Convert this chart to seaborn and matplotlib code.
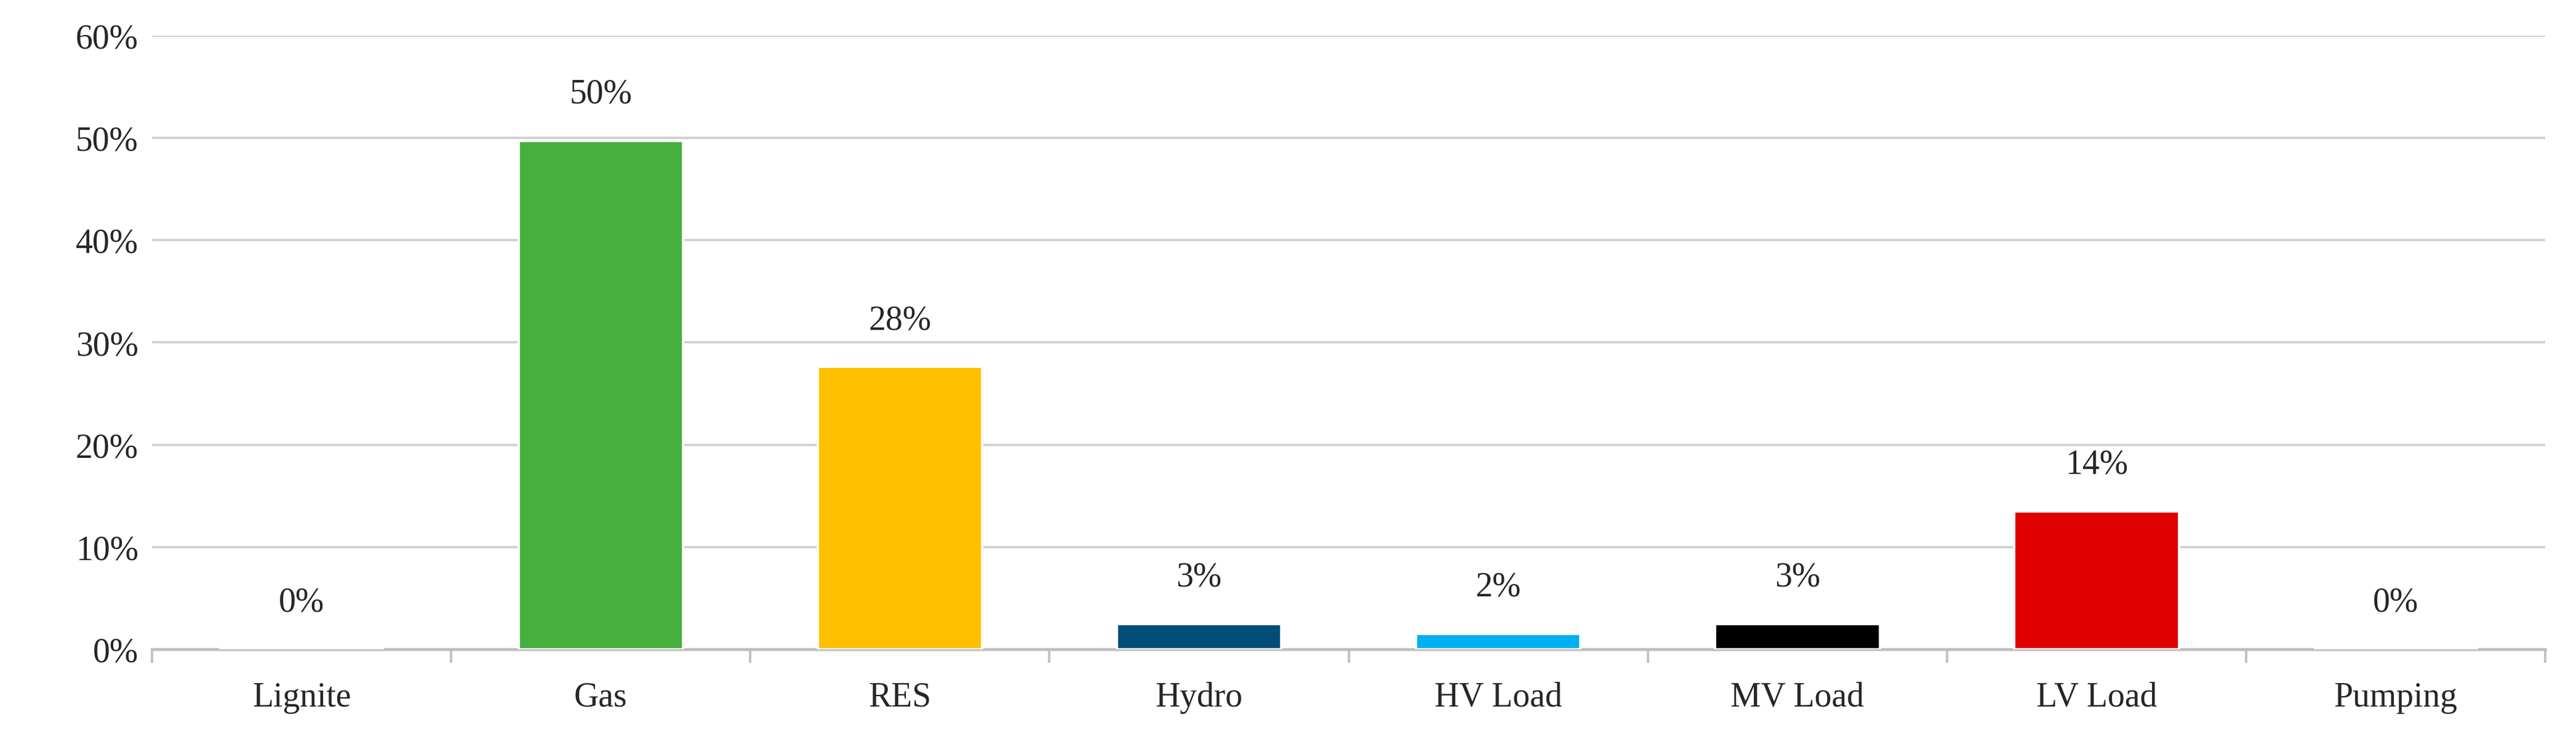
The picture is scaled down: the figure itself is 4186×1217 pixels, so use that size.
import matplotlib
matplotlib.use("Agg")
import matplotlib.pyplot as plt
import seaborn as sns
import pandas as pd
import numpy as np
from matplotlib.ticker import FixedLocator

categories = ["Lignite", "Gas", "RES", "Hydro", "HV Load", "MV Load", "LV Load", "Pumping"]
values = [0.0, 49.7, 27.6, 2.5, 1.5, 2.5, 13.5, 0.0]
labels = ["0%", "50%", "28%", "3%", "2%", "3%", "14%", "0%"]
colors = ["#7f7f7f", "#46b03e", "#ffc000", "#004d7a", "#00b0f0", "#000000", "#e00000", "#7f7f7f"]
yticks = [0, 10, 20, 30, 40, 50, 60]

sns.set_theme(style="white")
plt.rcParams['font.family'] = ['Liberation Serif', 'DejaVu Serif']

df = pd.DataFrame({"cat": categories, "val": values})
fig, ax = plt.subplots(figsize=(15.68, 4.56), dpi=267)
fig.subplots_adjust(left=0.059, right=0.988, top=0.952, bottom=0.133)
sns.barplot(data=df, x="cat", y="val", hue="cat", palette=colors, legend=False,
            width=0.55, ax=ax, saturation=1, zorder=3)
ax.set_ylim(0, 60)
ax.set_xlim(-0.5, len(categories) - 0.5)
ax.set_yticks(yticks)
ax.set_yticklabels([f"{v}%" for v in yticks], fontsize=15)
ax.grid(axis="y", color="#d0d0d0", linewidth=1, zorder=0)
ax.set_xlabel("")
ax.set_ylabel("")
ax.tick_params(axis="x", labelsize=15, length=0, pad=14)
ax.tick_params(axis="y", length=0, pad=6)
for s in ["top", "right", "left"]:
    ax.spines[s].set_visible(False)
ax.spines["bottom"].set_color("#bfbfbf")
ax.xaxis.set_minor_locator(FixedLocator(np.arange(-0.5, len(categories), 1)))
ax.tick_params(axis="x", which="minor", length=6, color="#bfbfbf", bottom=True)
for i, (v, l) in enumerate(zip(values, labels)):
    ax.text(i, v + 3, l, ha="center", va="bottom", fontsize=15)
fig.savefig("out.png")
